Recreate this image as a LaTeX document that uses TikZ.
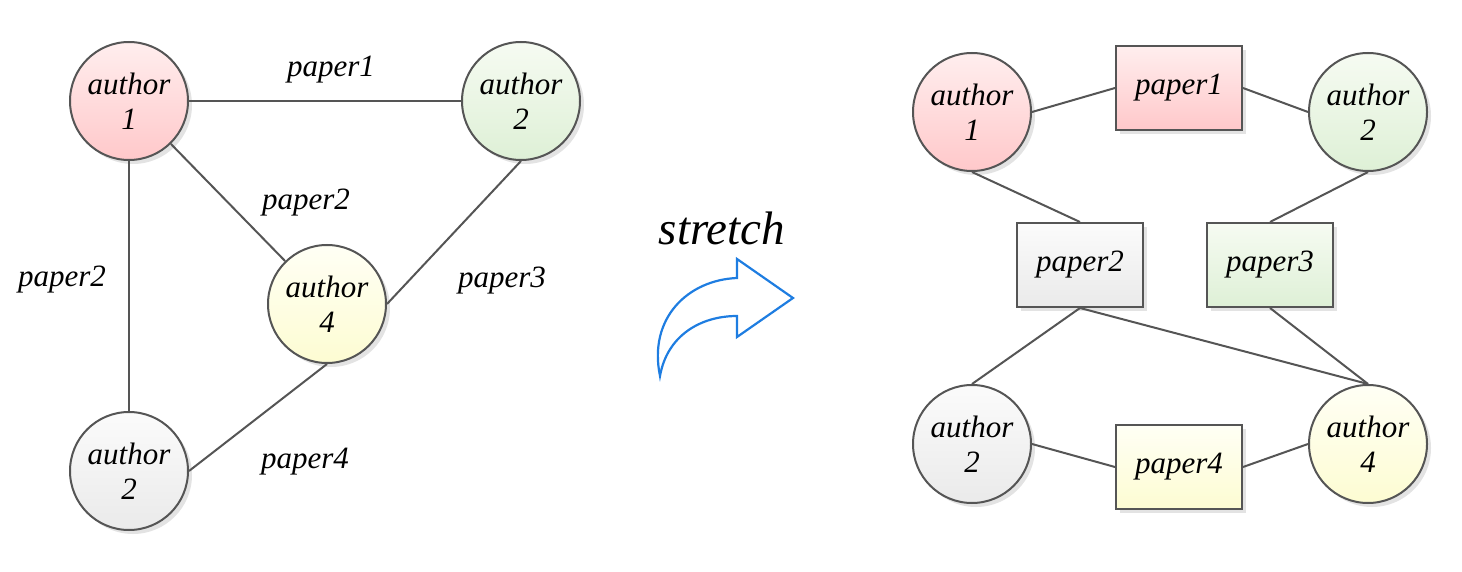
\documentclass[tikz,border=0pt]{standalone}
\usepackage{fontspec}
\setmainfont{Liberation Serif}
\usetikzlibrary{shadows}
\definecolor{edgegray}{RGB}{85,85,85}
\definecolor{arrowblue}{RGB}{30,125,225}
\definecolor{redtop}{RGB}{255,238,238}
\definecolor{redbot}{RGB}{255,200,202}
\definecolor{greentop}{RGB}{246,251,242}
\definecolor{greenbot}{RGB}{222,240,214}
\definecolor{yellowtop}{RGB}{255,255,245}
\definecolor{yellowbot}{RGB}{253,252,210}
\definecolor{greytop}{RGB}{251,251,251}
\definecolor{greybot}{RGB}{234,234,234}
\tikzset{
  txt/.style={font=\fontsize{15.5}{17.5}\selectfont\itshape},
  shadowed/.style={drop shadow={opacity=0.22,shadow xshift=2pt,shadow yshift=-2pt}},
  authornode/.style={circle,draw=edgegray,line width=1pt,minimum size=59pt,inner sep=0pt,align=center,txt,shadowed},
  papernode/.style={rectangle,draw=edgegray,line width=1pt,minimum width=63pt,minimum height=42pt,inner sep=0pt,txt,shadowed},
  redfill/.style={top color=redtop,bottom color=redbot},
  greenfill/.style={top color=greentop,bottom color=greenbot},
  yellowfill/.style={top color=yellowtop,bottom color=yellowbot},
  greyfill/.style={top color=greytop,bottom color=greybot},
  link/.style={draw=edgegray,line width=1pt},
  lbl/.style={txt,inner sep=0pt}
}
\begin{document}
\begin{tikzpicture}[x=0.5pt,y=-0.5pt]
\useasboundingbox (0,0) rectangle (1462,572);
% ---------- left graph ----------
\node[authornode,redfill]    (la1) at (129,101) {author\\1};
\node[authornode,greenfill]  (la2) at (521,101) {author\\2};
\node[authornode,yellowfill] (la4) at (327,304) {author\\4};
\node[authornode,greyfill]   (la2b) at (129,471) {author\\2};
\begin{scope}[on background layer/.try]
\end{scope}
\draw[link] (la1) -- (la2);
\draw[link] (la1) -- (la4);
\draw[link] (la1) -- (la2b);
\draw[link] (la2.south) -- (la4.east);
\draw[link] (la4.south) -- (la2b.east);
\node[lbl] (lp1)  at (331,70)  {paper1};
\node[lbl] (lp2a) at (306,203) {paper2};
\node[lbl] (lp2b) at (62,280)  {paper2};
\node[lbl] (lp3)  at (502,281) {paper3};
\node[lbl] (lp4)  at (305,462) {paper4};
% ---------- stretch arrow ----------
\node[font=\fontsize{23.5}{26}\selectfont\itshape,inner sep=0pt] (st) at (722,228) {stretch};
\draw[arrowblue,line width=1.1pt,line join=miter]
  (660,376) .. controls (648,318) and (688,280) .. (737,278)
  -- (737,259) -- (793,298) -- (737,337) -- (737,316)
  .. controls (700,316) and (667,336) .. cycle;
% ---------- right graph ----------
\node[authornode,redfill]    (ra1) at (972,112) {author\\1};
\node[authornode,greenfill]  (ra2) at (1368,112) {author\\2};
\node[authornode,greyfill]   (ra2b) at (972,444) {author\\2};
\node[authornode,yellowfill] (ra4) at (1368,444) {author\\4};
\node[papernode,redfill]     (rp1) at (1179,88)  {paper1};
\node[papernode,greyfill]    (rp2) at (1080,265) {paper2};
\node[papernode,greenfill]   (rp3) at (1270,265) {paper3};
\node[papernode,yellowfill]  (rp4) at (1179,467) {paper4};
\draw[link] (ra1.east) -- (rp1.west);
\draw[link] (rp1.east) -- (ra2.west);
\draw[link] (ra1.south) -- (rp2.north);
\draw[link] (ra2.south) -- (rp3.north);
\draw[link] (rp2.south) -- (ra2b.north);
\draw[link] (rp2.south) -- (ra4.north);
\draw[link] (rp3.south) -- (ra4.north);
\draw[link] (ra2b.east) -- (rp4.west);
\draw[link] (rp4.east) -- (ra4.west);
\end{tikzpicture}
\end{document}
